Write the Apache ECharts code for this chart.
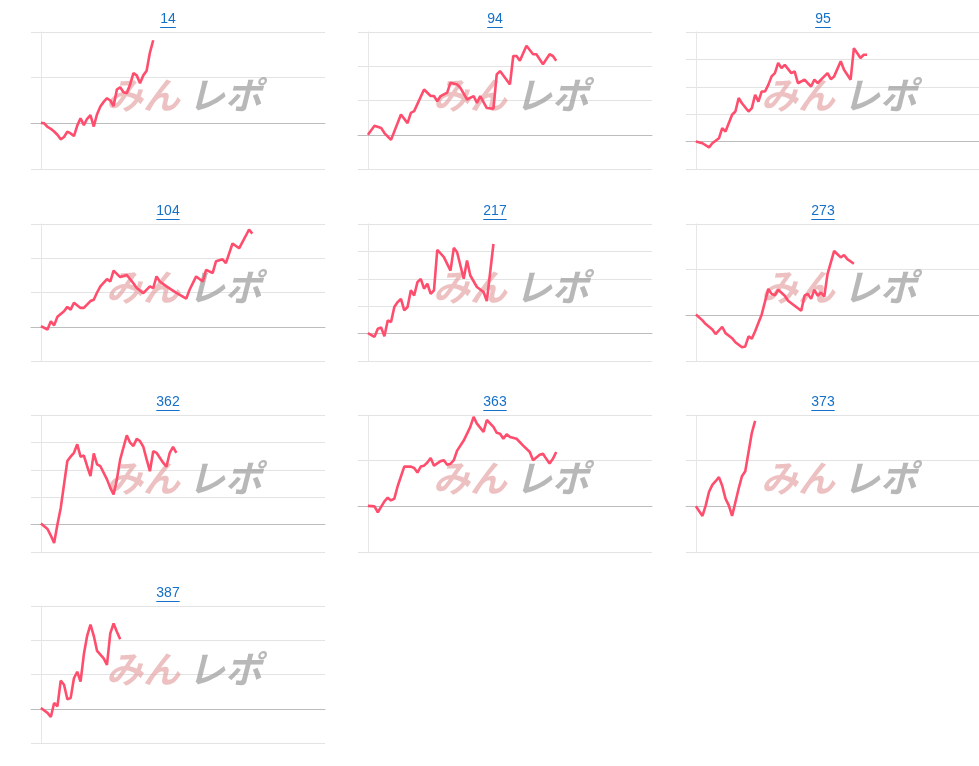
<!DOCTYPE html>
<html><head><meta charset="utf-8">
<script src="https://cdn.jsdelivr.net/npm/echarts@6/dist/echarts.min.js"></script>
<style>html,body{margin:0;padding:0;background:#fff}#c{width:979px;height:766px}</style>
</head><body><div id="c"></div>
<script>
const titles = ['14','94','95','104','217','273','362','363','373','387'];
const yMax = [2,3,4,3,4,2,4,2,2,3];
const d14 = [0,1,2,3,4,5,6,7,8,9,10,11,12,13,14,15,16,17,18,19,20,21,22,23,24,25,26,27,28,29,30,31,32,33,34];
const v14 = [0.01,0,-0.08,-0.12,-0.18,-0.25,-0.35,-0.3,-0.18,-0.22,-0.28,-0.05,0.11,-0.04,0.1,0.18,-0.07,0.2,0.37,0.47,0.55,0.5,0.38,0.74,0.79,0.68,0.66,0.85,1.1,1.05,0.88,1.05,1.15,1.55,1.82];
const d94 = [0,2,4,5,7,10,12,13,14,17,19,20,21,22,24,25,27,28,30,32,33,34,36,38,39,40,43,44,45,46,48,50,51,53,55,56,57];
const v94 = [0,0.26,0.2,0.05,-0.15,0.59,0.34,0.64,0.69,1.32,1.13,1.13,0.98,1.13,1.23,1.52,1.47,1.37,1.03,1.13,0.93,1.13,0.78,0.76,1.76,1.86,1.47,2.3,2.3,2.16,2.6,2.35,2.35,2.06,2.35,2.3,2.16];
const d95 = [0,2,4,5,7,8,9,11,12,13,14,16,17,18,19,20,21,22,23,24,25,26,27,29,30,31,33,34,35,36,37,38,39,40,41,42,44,45,47,48,50,51,52];
const v95 = [0,-0.06,-0.21,-0.06,0.12,0.49,0.37,0.98,1.1,1.59,1.4,1.1,1.22,1.71,1.46,1.83,1.83,2.07,2.38,2.5,2.87,2.68,2.8,2.5,2.56,2.13,2.26,2.13,2.01,2.26,2.13,2.26,2.38,2.5,2.28,2.38,2.93,2.62,2.26,3.41,3.05,3.17,3.17];
const d104 = [0,2,3,4,5,7,8,9,10,12,13,15,16,17,18,20,21,22,24,26,28,29,31,33,34,35,36,38,41,44,45,47,49,50,52,53,55,56,58,60,62,63,64];
const v104 = [0.02,-0.08,0.16,0.04,0.29,0.45,0.58,0.5,0.7,0.55,0.55,0.75,0.79,1.0,1.18,1.39,1.32,1.64,1.45,1.51,1.27,1.13,0.98,1.18,1.13,1.47,1.32,1.18,0.99,0.82,1.08,1.47,1.32,1.66,1.57,1.91,1.97,1.86,2.43,2.29,2.65,2.84,2.72];
const d217 = [0,2,3,4,5,6,7,8,9,10,11,12,13,14,15,16,17,18,19,20,21,23,25,26,27,29,30,31,33,35,36,38];
const v217 = [0.02,-0.12,0.18,0.22,-0.1,0.48,0.42,0.97,1.15,1.27,0.85,0.97,1.58,1.39,1.88,2.0,1.64,1.82,1.45,1.58,3.06,2.79,2.3,3.13,2.97,2.0,2.67,2.12,1.7,1.52,1.19,3.27];
const d273 = [0,2,3,5,6,8,9,11,12,14,15,16,17,18,20,22,23,24,25,27,28,30,32,33,34,35,36,37,38,39,40,42,44,45,46,48];
const v273 = [0.02,-0.11,-0.19,-0.31,-0.41,-0.25,-0.39,-0.5,-0.59,-0.7,-0.68,-0.46,-0.51,-0.35,0.02,0.58,0.47,0.44,0.56,0.43,0.32,0.21,0.1,0.43,0.47,0.36,0.56,0.43,0.5,0.41,0.91,1.41,1.27,1.32,1.23,1.13];
const d362 = [0,2,3,4,5,6,8,9,10,11,12,13,14,15,16,17,18,20,21,22,23,24,26,27,28,29,30,31,32,33,34,35,37,38,39,40,41];
const v362 = [0.04,-0.16,-0.4,-0.67,0,0.61,2.32,2.48,2.62,2.93,2.48,2.52,2.13,1.77,2.6,2.2,2.13,1.65,1.34,1.1,1.65,2.38,3.26,2.99,2.87,3.13,3.05,2.84,2.38,1.95,2.68,2.62,2.26,2.11,2.62,2.84,2.62];
const d363 = [0,2,3,5,6,7,8,9,11,13,14,15,16,17,18,19,20,22,23,24,25,26,27,29,31,32,33,35,36,38,39,40,41,42,43,45,47,49,50,52,53,54,55,56,57];
const v363 = [0.01,0,-0.13,0.11,0.19,0.13,0.17,0.44,0.87,0.87,0.84,0.74,0.87,0.89,0.96,1.06,0.89,0.99,1.01,0.91,0.93,1.01,1.22,1.44,1.74,1.96,1.81,1.63,1.89,1.74,1.61,1.59,1.48,1.58,1.52,1.48,1.33,1.19,1.01,1.13,1.15,1.04,0.94,1.04,1.19];
const d373 = [0,2,3,4,5,6,7,8,9,10,11,12,13,14,15,16,17,18];
const v373 = [0,-0.21,0.02,0.32,0.47,0.55,0.64,0.45,0.17,0.02,-0.21,0.09,0.39,0.66,0.77,1.19,1.61,1.87];
const d387 = [0,2,3,4,5,6,7,8,9,10,11,12,13,14,15,16,17,19,20,21,22,23,24];
const v387 = [0.02,-0.12,-0.24,0.17,0.07,0.82,0.7,0.28,0.31,0.89,1.08,0.79,1.59,2.13,2.46,2.13,1.69,1.47,1.28,2.2,2.49,2.25,2.03];
const days = [d14,d94,d95,d104,d217,d273,d362,d363,d373,d387];
const vals = [v14,v94,v95,v104,v217,v273,v362,v363,v373,v387];

const colLeft = [31,358,686], rowTop = [32,224,415,606], gW = 294, gH = 137;
const grid=[], xAxis=[], yAxis=[], series=[], graphic=[];
titles.forEach((t,i)=>{
  const L = colLeft[i%3], T = rowTop[Math.floor(i/3)];
  grid.push({left:L, top:T, width:gW, height:gH});
  xAxis.push({gridIndex:i, type:'value', min:-3, max:86, axisLine:{show:true,onZero:true,lineStyle:{color:'#bdbdbd'}}, axisTick:{show:false}, axisLabel:{show:false}, splitLine:{show:false}});
  yAxis.push({gridIndex:i, type:'value', min:-1, max:yMax[i], interval:1, axisLine:{show:true,onZero:true,lineStyle:{color:'#e6e6e6'}}, axisTick:{show:false}, axisLabel:{show:false}, splitLine:{lineStyle:{color:'#e3e3e3'}}});
  series.push({type:'line', xAxisIndex:i, yAxisIndex:i, data:days[i].map((d,k)=>[d,vals[i][k]]), showSymbol:false, symbol:'none', lineStyle:{color:'#ff4d6d', width:2.6}, z:5});
  const cx = L+137;
  graphic.push({type:'text', x:cx, y:T-13, style:{text:t, fill:'#1570c8', font:'14px "Liberation Sans", Arial, sans-serif', textAlign:'center', textVerticalAlign:'middle'}});
  const w = t.length*7.8;
  graphic.push({type:'line', shape:{x1:cx-w/2, y1:T-4.5, x2:cx+w/2, y2:T-4.5}, style:{stroke:'#1570c8', lineWidth:1}});
  graphic.push({type:'text', x:L+112, y:T+63, z:1, style:{text:'みん', fill:'rgba(228,160,160,0.65)', font:'italic bold 37px "Noto Sans CJK JP"', textAlign:'center', textVerticalAlign:'middle'}});
  graphic.push({type:'text', x:L+194, y:T+63, z:1, style:{text:'レポ', fill:'rgba(160,160,160,0.75)', font:'italic bold 37px "Noto Sans CJK JP"', textAlign:'center', textVerticalAlign:'middle'}});
});
const chart = echarts.init(document.getElementById('c'));
chart.setOption({animation:false, grid, xAxis, yAxis, series, graphic});
</script></body></html>
